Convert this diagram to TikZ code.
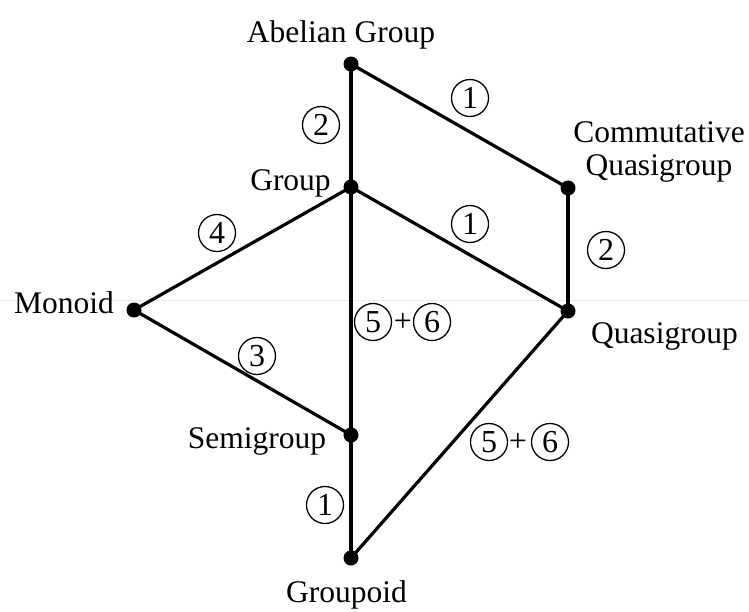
\documentclass[tikz,border=0pt]{standalone}
\usepackage{fontspec}
\setmainfont{Liberation Serif}
\begin{document}
\begin{tikzpicture}[x=1pt,y=-1pt,
  dot/.style={circle,fill=black,inner sep=0pt,minimum size=15pt},
  lbl/.style={anchor=base,inner sep=0pt,font=\fontsize{31.5}{36}\selectfont},
  cnum/.style={circle,draw,line width=1.3pt,inner sep=0pt,minimum size=37pt,font=\fontsize{32}{32}\selectfont},
  plus/.style={inner sep=0pt,font=\fontsize{32}{32}\selectfont},
  conn/.style={line width=3.2pt}]
\useasboundingbox (0,0) rectangle (749,611);
\coordinate (seamL) at (0,300);
\coordinate (seamR) at (749,300);
\draw[black!8,line width=1pt] (seamL) -- (seamR);

\node[dot] (ab) at (351,64) {};
\node[dot] (gr) at (351,187) {};
\node[dot] (cq) at (568,188) {};
\node[dot] (mo) at (134,310) {};
\node[dot] (qg) at (568,311) {};
\node[dot] (sg) at (351,435) {};
\node[dot] (gd) at (351,558) {};

\draw[conn] (ab.center) -- (gr.center);
\draw[conn] (ab.center) -- (cq.center);
\draw[conn] (cq.center) -- (qg.center);
\draw[conn] (gr.center) -- (qg.center);
\draw[conn] (gr.center) -- (mo.center);
\draw[conn] (mo.center) -- (sg.center);
\draw[conn] (gr.center) -- (sg.center);
\draw[conn] (sg.center) -- (gd.center);
\draw[conn] (qg.center) -- (gd.center);

\node[lbl] (tab) at (341,42) {Abelian Group};
\node[lbl] (tgr) at (290.5,190) {Group};
\node[lbl] (tcq1) at (659,142) {Commutative};
\node[lbl] (tcq2) at (659,175) {Quasigroup};
\node[lbl] (tmo) at (64,313) {Monoid};
\node[lbl] (tqg) at (664.5,343) {Quasigroup};
\node[lbl] (tsg) at (257,448) {Semigroup};
\node[lbl] (tgd) at (346.5,602) {Groupoid};

\node[cnum] (e1) at (470,98) {1};
\node[cnum] (e2) at (321,125) {2};
\node[cnum] (e3) at (470,224) {1};
\node[cnum] (e4) at (606,250) {2};
\node[cnum] (e5) at (217,233) {4};
\node[cnum] (e6) at (257,356) {3};
\node[cnum] (e7a) at (373,322) {5};
\node[plus] (e7p) at (403,322) {+};
\node[cnum] (e7b) at (432,322) {6};
\node[cnum] (e8) at (325,505) {1};
\node[cnum] (e9a) at (489,442) {5};
\node[plus] (e9p) at (518,442) {+};
\node[cnum] (e9b) at (550,442) {6};
\end{tikzpicture}
\end{document}
